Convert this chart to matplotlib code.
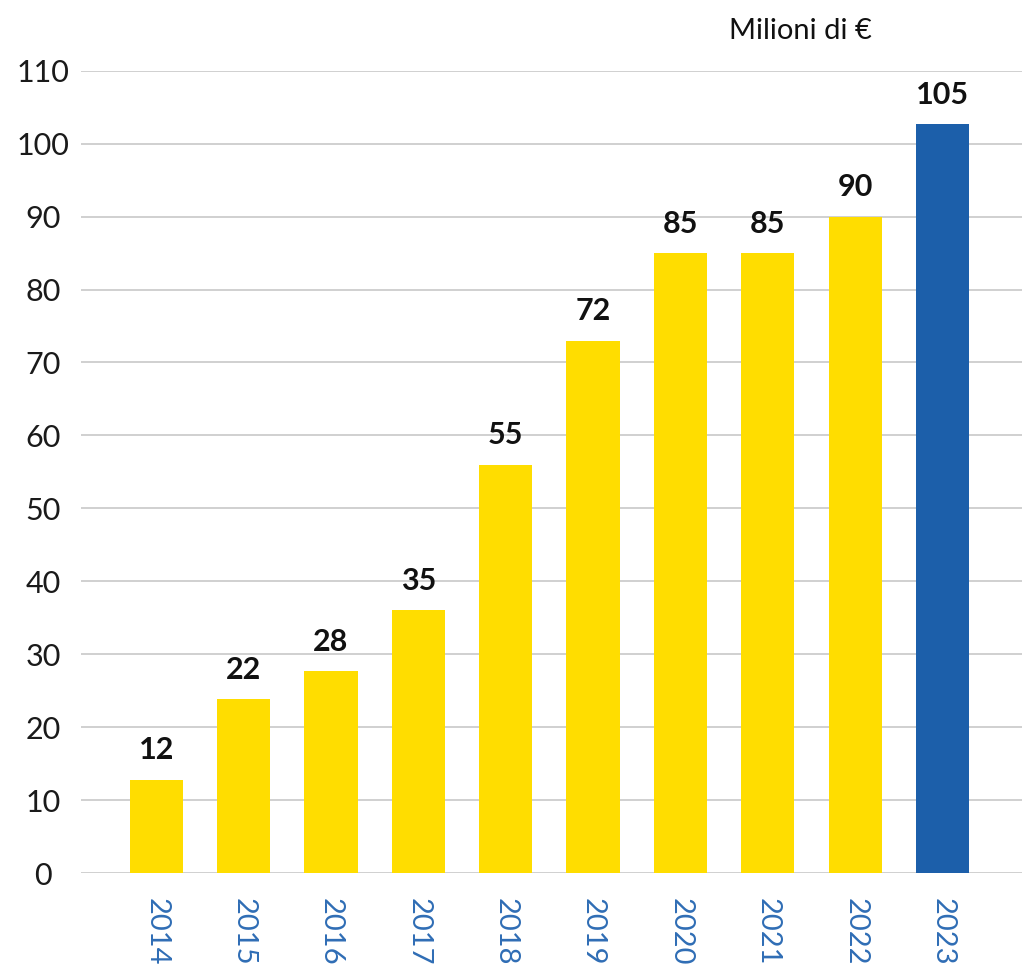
import matplotlib
matplotlib.use("Agg")
import matplotlib.pyplot as plt

plt.rcParams['font.family'] = ['Lato', 'DejaVu Sans']

years = ["2014", "2015", "2016", "2017", "2018", "2019", "2020", "2021", "2022", "2023"]
heights = [12.8, 23.8, 27.7, 36.0, 56.0, 73.0, 85.0, 85.0, 90.0, 102.7]
labels = ["12", "22", "28", "35", "55", "72", "85", "85", "90", "105"]
yticks = list(range(0, 111, 10))

YELLOW = "#FFDD00"
BLUE = "#1C5FAA"
colors = [YELLOW] * 9 + [BLUE]

fig = plt.figure(figsize=(10.22, 9.69), dpi=100)
ax = fig.add_axes([0.079, 0.099, 0.921, 0.828])

x = range(len(years))
bars = ax.bar(x, heights, width=0.61, color=colors, zorder=3)
for b, lab in zip(bars, labels):
    ax.text(b.get_x() + b.get_width() / 2, b.get_height() + 2.1, lab,
            ha="center", va="bottom", fontsize=22, fontweight="bold", color="#111111")

ax.set_xlim(-0.865, 9.91)
ax.set_ylim(0, 110)
ax.set_yticks(yticks)
ax.set_yticklabels([str(t) for t in yticks], fontsize=22, color="#1a1a1a", ha="center")
ax.set_xticks(list(x))
ax.set_xticklabels(years, rotation=270, fontsize=21, color="#2F6DB5", va="top")
ax.tick_params(axis="y", length=0, pad=27)
ax.tick_params(axis="x", length=0, pad=18)
ax.yaxis.grid(True, color="#C8C8C8", linewidth=1.2, zorder=0)
for s in ax.spines.values():
    s.set_visible(False)

fig.text(0.783, 0.968, "Milioni di €", ha="center", va="center", fontsize=21, color="#111111")

fig.savefig("out.png", dpi=100)
